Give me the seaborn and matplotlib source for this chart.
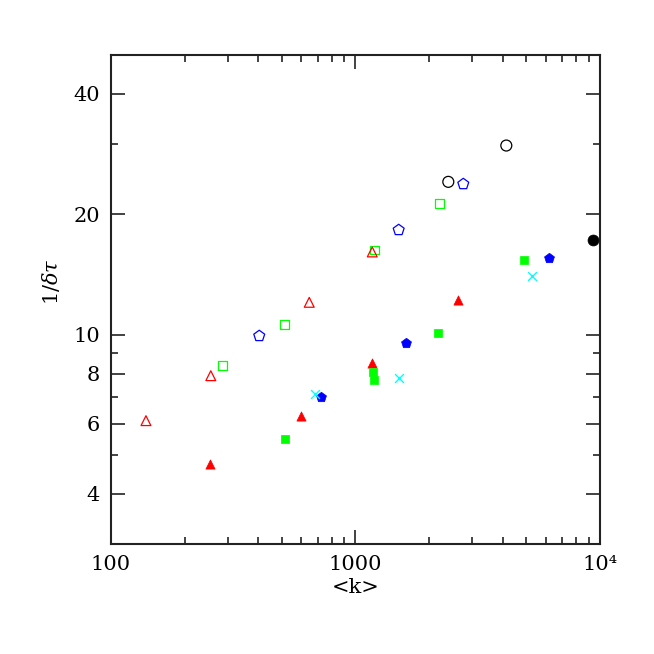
import numpy as np
import pandas as pd
import matplotlib
matplotlib.use("Agg")
import matplotlib.pyplot as plt
from matplotlib.ticker import FixedLocator, NullFormatter, FixedFormatter
import seaborn as sns

# data (x = <k>, y = 1/delta tau)
open_tri_k = [139, 256, 647, 1171]
open_tri_y = [6.10, 7.90, 12.05, 16.1]

open_sq_k = [285, 513, 1194, 2210]
open_sq_y = [8.38, 10.62, 16.28, 21.3]

open_pent_k = [404, 1502, 2760]
open_pent_y = [9.93, 18.27, 23.8]

open_circ_k = [2397, 4139]
open_circ_y = [24.1, 29.7]

fill_circ_k = [9333]
fill_circ_y = [17.2]

fill_tri_k = [255, 600, 1165, 2618]
fill_tri_y = [4.75, 6.27, 8.48, 12.24]

fill_sq_k = [516, 1182, 1194, 2175, 4887]
fill_sq_y = [5.48, 8.08, 7.70, 10.12, 15.4]

fill_pent_k = [721, 1614, 6203]
fill_pent_y = [6.97, 9.55, 15.55]

cross_k = [683, 1507, 5255]
cross_y = [7.11, 7.79, 14.0]

y_major = [4, 6, 8, 10, 20, 40]
y_minor = [5, 7, 9, 30]
x_major = [100, 1000, 10000]
x_labels = ["100", "1000", "10\u2074"]

sns.set_theme(style="ticks")
plt.rcParams["font.family"] = ["DejaVu Serif"]
plt.rcParams["mathtext.fontset"] = "dejavuserif"
plt.rcParams["text.color"] = "black"
plt.rcParams["axes.labelcolor"] = "black"
plt.rcParams["xtick.labelcolor"] = "black"
plt.rcParams["ytick.labelcolor"] = "black"

fig = plt.figure(figsize=(6.54, 6.54), dpi=100)
ax = fig.add_axes([0.1697, 0.1682, 0.7477, 0.7477])

series = [
    (open_sq_k, open_sq_y, "s", "#00ff00", False, 40),
    (open_tri_k, open_tri_y, "^", "#ff0000", False, 50),
    (open_pent_k, open_pent_y, "p", "#0000ff", False, 68),
    (open_circ_k, open_circ_y, "o", "black", False, 62),
    (fill_circ_k, fill_circ_y, "o", "black", True, 62),
    (fill_tri_k, fill_tri_y, "^", "#ff0000", True, 44),
    (fill_sq_k, fill_sq_y, "s", "#00ff00", True, 30),
    (fill_pent_k, fill_pent_y, "p", "#0000ff", True, 56),
]

for k, y, m, c, filled, s in series:
    df = pd.DataFrame({"k": k, "y": y})
    if filled:
        sns.scatterplot(data=df, x="k", y="y", marker=m, s=s, color=c,
                        edgecolor=c, linewidth=0.5, ax=ax, zorder=3)
    else:
        sns.scatterplot(data=df, x="k", y="y", marker=m, s=s,
                        facecolor="none", edgecolor=c, linewidth=0.9,
                        ax=ax, zorder=3)

df = pd.DataFrame({"k": cross_k, "y": cross_y})
sns.scatterplot(data=df, x="k", y="y", marker="x", s=40, color="#00ffff",
                linewidth=1.0, ax=ax, zorder=3)

ax.set_xscale("log")
ax.set_yscale("log")
ax.set_xlim(100, 10000)
ax.set_ylim(3, 50)

ax.xaxis.set_major_locator(FixedLocator(x_major))
ax.xaxis.set_major_formatter(FixedFormatter(x_labels))
ax.xaxis.set_minor_formatter(NullFormatter())
ax.yaxis.set_major_locator(FixedLocator(y_major))
ax.yaxis.set_major_formatter(FixedFormatter([str(v) for v in y_major]))
ax.yaxis.set_minor_locator(FixedLocator(y_minor))
ax.yaxis.set_minor_formatter(NullFormatter())

ax.tick_params(which="both", direction="in", top=True, right=True,
               color="#222222", labelsize=15, pad=8)
ax.tick_params(which="major", length=10, width=1.2)
ax.tick_params(which="minor", length=5, width=1.2)
for sp in ax.spines.values():
    sp.set_linewidth(1.5)
    sp.set_color("#222222")

ax.set_xlabel("<k>", fontsize=15, labelpad=3)
ax.set_ylabel("1/$\\delta\\tau$", fontsize=15)
ax.yaxis.set_label_coords(-0.10, 0.536)

fig.savefig("out.png", dpi=100)
plt.close()
